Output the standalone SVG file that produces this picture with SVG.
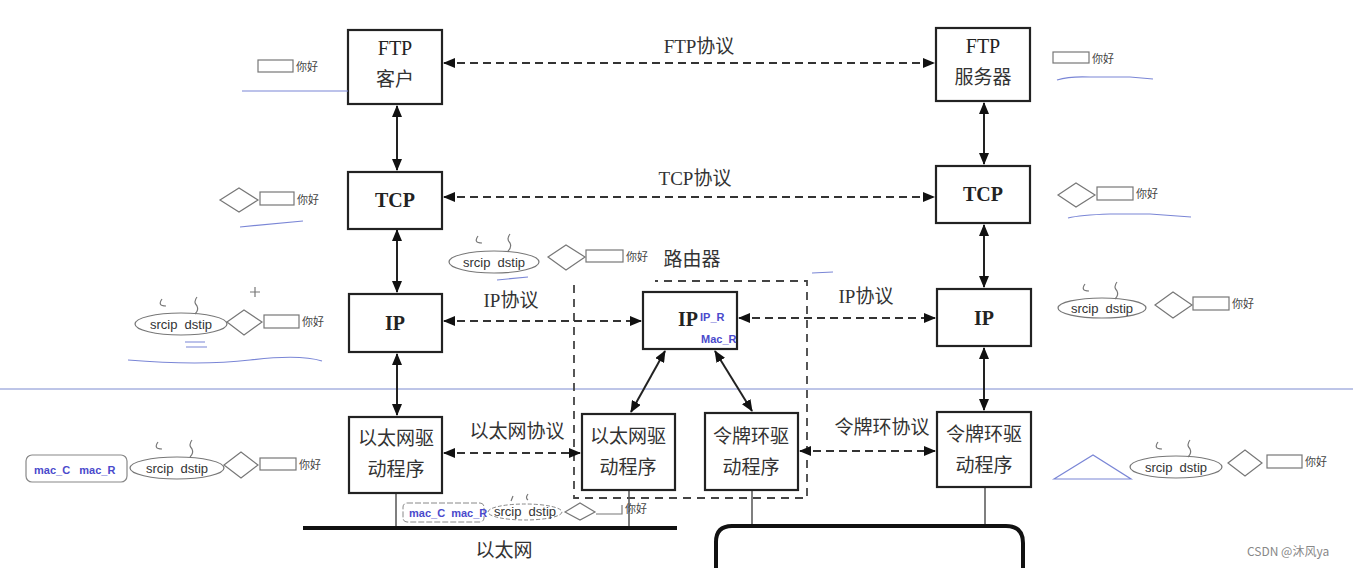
<svg xmlns="http://www.w3.org/2000/svg" width="1353" height="568" viewBox="0 0 1353 568">
<defs>
<marker id="ah" viewBox="0 0 12 10" refX="11" refY="5" markerWidth="12" markerHeight="10" markerUnits="userSpaceOnUse" orient="auto-start-reverse">
<path d="M0,0 L12,5 L0,10 Z" fill="#111"/>
</marker>
</defs>
<style>
.box{fill:#fff;stroke:#222;stroke-width:2.2}
.t{font-family:"Liberation Serif","Noto Sans CJK SC",serif;font-size:20px;fill:#222;text-anchor:middle}
.c{font-family:"Noto Sans CJK SC",sans-serif;font-size:19px;fill:#333;text-anchor:middle}
.lbl{font-family:"Liberation Serif","Noto Sans CJK SC",serif;font-size:19px;fill:#333;text-anchor:middle}
.solid{stroke:#222;stroke-width:2;fill:none;marker-start:url(#ah);marker-end:url(#ah)}
.dash{stroke:#333;stroke-width:2;stroke-dasharray:8 5;fill:none;marker-start:url(#ah);marker-end:url(#ah)}
.bd{stroke:#444;stroke-width:1.8;stroke-dasharray:8 6;fill:none}
.thin{stroke:#555;stroke-width:1.5;fill:none}
.bus{stroke:#111;stroke-width:4;fill:none}
.an{fill:none;stroke:#777;stroke-width:1.2}
.ant{font-family:"Noto Sans CJK SC",sans-serif;font-size:11px;fill:#444}
.ip{font-family:"Liberation Sans",sans-serif;font-size:13px;fill:#333;text-anchor:middle;white-space:pre}
.mac{font-family:"Liberation Sans",sans-serif;font-size:11px;font-weight:bold;fill:#4a4acc;white-space:pre}
.blue{stroke:#7a86d6;stroke-width:1.2;fill:none}
</style>

<line x1="0" y1="389" x2="1353" y2="389" stroke="#7d8bd0" stroke-width="1"/>

<g id="router-boundary">
<path class="bd" d="M574,285 V498 H807 V281 H655"/>
<text class="c" x="692" y="266">路由器</text>
</g>

<g id="connectors">
<line class="dash" x1="444" y1="63" x2="934" y2="63"/>
<text class="lbl" x="699" y="53">FTP协议</text>
<line class="dash" x1="444" y1="197" x2="934" y2="197"/>
<text class="lbl" x="695" y="185">TCP协议</text>
<line class="dash" x1="444" y1="321" x2="641" y2="321"/>
<text class="lbl" x="511" y="307">IP协议</text>
<line class="dash" x1="739" y1="318" x2="935" y2="318"/>
<text class="lbl" x="866" y="303">IP协议</text>
<line class="dash" x1="444" y1="453" x2="580" y2="453"/>
<text class="c" x="517" y="438">以太网协议</text>
<line class="dash" x1="800" y1="451" x2="935" y2="451"/>
<text class="c" x="882" y="434">令牌环协议</text>
<line class="solid" x1="397" y1="106" x2="397" y2="170"/>
<line class="solid" x1="397" y1="230" x2="397" y2="292"/>
<line class="solid" x1="397" y1="354" x2="397" y2="415"/>
<line class="solid" x1="984" y1="103" x2="984" y2="164"/>
<line class="solid" x1="984" y1="225" x2="984" y2="287"/>
<line class="solid" x1="984" y1="348" x2="984" y2="410"/>
<line class="solid" x1="665" y1="351" x2="631" y2="412"/>
<line class="solid" x1="715" y1="351" x2="752" y2="411"/>
<line class="thin" x1="396" y1="494" x2="396" y2="528"/>
<line class="thin" x1="629" y1="491" x2="629" y2="528"/>
<line class="thin" x1="752" y1="491" x2="752" y2="526"/>
<line class="thin" x1="985" y1="488" x2="985" y2="526"/>
<line class="bus" x1="303" y1="528" x2="677" y2="528"/>
<path class="bus" d="M716,568 V542 Q716,526 732,526 H1006 Q1023,526 1023,543 V568"/>
<text class="c" x="504" y="557">以太网</text>
</g>

<g id="ftp-client">
<rect class="box" x="348" y="30" width="94" height="74"/>
<text class="t" x="395" y="55">FTP</text>
<text class="c" x="395" y="86">客户</text>
</g>
<g id="tcp-left">
<rect class="box" x="348" y="172" width="94" height="57"/>
<text class="t" x="395" y="207" font-weight="bold">TCP</text>
</g>
<g id="ip-left">
<rect class="box" x="349" y="294" width="93" height="58"/>
<text class="t" x="395" y="330" font-weight="bold">IP</text>
</g>
<g id="eth-left">
<rect class="box" x="349" y="417" width="93" height="76"/>
<text class="c" x="396" y="445">以太网驱</text>
<text class="c" x="396" y="476">动程序</text>
</g>

<g id="ip-router">
<rect class="box" x="643" y="292" width="94" height="57"/>
<text class="t" x="688" y="326" font-weight="bold">IP</text>
<text class="mac" x="700" y="321" font-size="12">IP_R</text>
<text class="mac" x="701" y="343" font-size="12">Mac_R</text>
</g>
<g id="eth-router">
<rect class="box" x="582" y="414" width="93" height="76"/>
<text class="c" x="628" y="443">以太网驱</text>
<text class="c" x="628" y="474">动程序</text>
</g>
<g id="token-router">
<rect class="box" x="705" y="413" width="93" height="77"/>
<text class="c" x="751" y="443">令牌环驱</text>
<text class="c" x="751" y="474">动程序</text>
</g>

<g id="ftp-server">
<rect class="box" x="936" y="28" width="94" height="73"/>
<text class="t" x="983" y="53">FTP</text>
<text class="c" x="983" y="84">服务器</text>
</g>
<g id="tcp-right">
<rect class="box" x="936" y="166" width="94" height="57"/>
<text class="t" x="983" y="201" font-weight="bold">TCP</text>
</g>
<g id="ip-right">
<rect class="box" x="937" y="289" width="94" height="57"/>
<text class="t" x="984" y="325" font-weight="bold">IP</text>
</g>
<g id="token-right">
<rect class="box" x="937" y="412" width="94" height="75"/>
<text class="c" x="984" y="441">令牌环驱</text>
<text class="c" x="984" y="472">动程序</text>
</g>

<g id="annotations">
<!-- left FTP -->
<rect class="an" x="258" y="60" width="35" height="12"/>
<text class="ant" x="296" y="71">你好</text>
<path class="blue" d="M242,91 H348"/>
<!-- left TCP -->
<path class="an" d="M220,200 L239,188 L258,200 L239,212 Z"/>
<rect class="an" x="260" y="192" width="34" height="13"/>
<text class="ant" x="297" y="204">你好</text>
<path class="blue" d="M240,227 L303,221"/>
<!-- left IP -->
<ellipse class="an" cx="181" cy="324" rx="46" ry="11"/>
<text class="ip" x="181" y="329">srcip  dstip</text>
<path class="an" d="M162,299 q-5,7 4,7 M197,297 q-4,5 0,9 q2,4 -2,8"/>
<path class="an" d="M227,322 L244,310 L262,322 L244,335 Z"/>
<rect class="an" x="264" y="315" width="35" height="13"/>
<text class="ant" x="302" y="326">你好</text>
<path class="an" d="M250,292 H260 M255,287 V297"/>
<path class="blue" d="M185,342 H205 M186,347 H207"/>
<path class="blue" d="M128,360 Q200,366 250,360 T322,361"/>
<!-- left Ethernet -->
<rect x="26" y="455" width="101" height="27" rx="6" fill="none" stroke="#888" stroke-width="1.2"/>
<text class="mac" x="34" y="474">mac_C   mac_R</text>
<ellipse class="an" cx="177" cy="468" rx="47" ry="11"/>
<text class="ip" x="177" y="473">srcip  dstip</text>
<path class="an" d="M158,442 q-5,7 4,7 M192,440 q-4,5 0,9 q2,4 -2,8"/>
<path class="an" d="M224,465 L241,452 L258,465 L241,478 Z"/>
<rect class="an" x="260" y="458" width="36" height="12"/>
<text class="ant" x="299" y="469">你好</text>
<!-- router IP annotation -->
<ellipse class="an" cx="494" cy="262" rx="45" ry="11"/>
<text class="ip" x="494" y="267">srcip  dstip</text>
<path class="an" d="M478,236 q-5,7 4,7 M510,234 q-4,5 0,9 q2,4 -2,8"/>
<path class="an" d="M548,257 L566,245 L585,257 L566,270 Z"/>
<rect class="an" x="586" y="250" width="37" height="12"/>
<text class="ant" x="626" y="261">你好</text>
<path class="blue" d="M497,280 L528,277"/>
<path class="blue" d="M812,273 L833,272"/>
<!-- bottom Ethernet annotation -->
<rect x="403" y="503" width="81" height="19" rx="4" fill="none" stroke="#888" stroke-width="1" stroke-dasharray="6 2"/>
<text class="mac" x="409" y="517" font-size="9">mac_C  mac_R</text>
<ellipse cx="525" cy="512" rx="37" ry="8" fill="none" stroke="#888" stroke-width="1" stroke-dasharray="4 2"/>
<text class="ip" x="525" y="516" font-size="10" fill="#777">srcip  dstip</text>
<path class="an" d="M513,496 l-2,5 M528,494 q-3,4 0,6"/>
<path class="an" d="M565,512 L580,503 L595,512 L580,520 Z"/>
<path class="an" d="M596,514 H622 V505"/>
<text class="ant" x="625" y="513" font-size="8">你好</text>
<!-- right FTP -->
<rect class="an" x="1053" y="52" width="36" height="11"/>
<text class="ant" x="1092" y="63">你好</text>
<path class="blue" d="M1057,80 Q1070,76 1090,77 H1130 L1153,79"/>
<!-- right TCP -->
<path class="an" d="M1058,195 L1076,183 L1095,195 L1076,207 Z"/>
<rect class="an" x="1097" y="187" width="36" height="13"/>
<text class="ant" x="1136" y="198">你好</text>
<path class="blue" d="M1068,218 Q1080,215 1110,214 H1150 L1191,217"/>
<!-- right IP -->
<ellipse class="an" cx="1102" cy="308" rx="44" ry="10"/>
<text class="ip" x="1102" y="313">srcip  dstip</text>
<path class="an" d="M1085,284 q-5,7 4,7 M1117,282 q-4,5 0,9 q2,4 -2,8"/>
<path class="an" d="M1155,305 L1173,292 L1192,305 L1173,318 Z"/>
<rect class="an" x="1193" y="297" width="36" height="13"/>
<text class="ant" x="1232" y="308">你好</text>
<!-- right Ethernet -->
<path d="M1054,479 L1093,455 L1131,479 Z" fill="none" stroke="#7a86d6" stroke-width="1.2"/>
<ellipse class="an" cx="1176" cy="467" rx="46" ry="11"/>
<text class="ip" x="1176" y="472">srcip  dstip</text>
<path class="an" d="M1158,442 q-5,7 4,7 M1190,440 q-4,5 0,9 q2,4 -2,8"/>
<path class="an" d="M1228,463 L1245,450 L1262,463 L1245,476 Z"/>
<rect class="an" x="1267" y="455" width="35" height="13"/>
<text class="ant" x="1305" y="466">你好</text>
</g>

<text x="1247" y="556" font-family="'Noto Sans CJK SC',sans-serif" font-size="12" fill="#888">CSDN @沐风ya</text>
</svg>
